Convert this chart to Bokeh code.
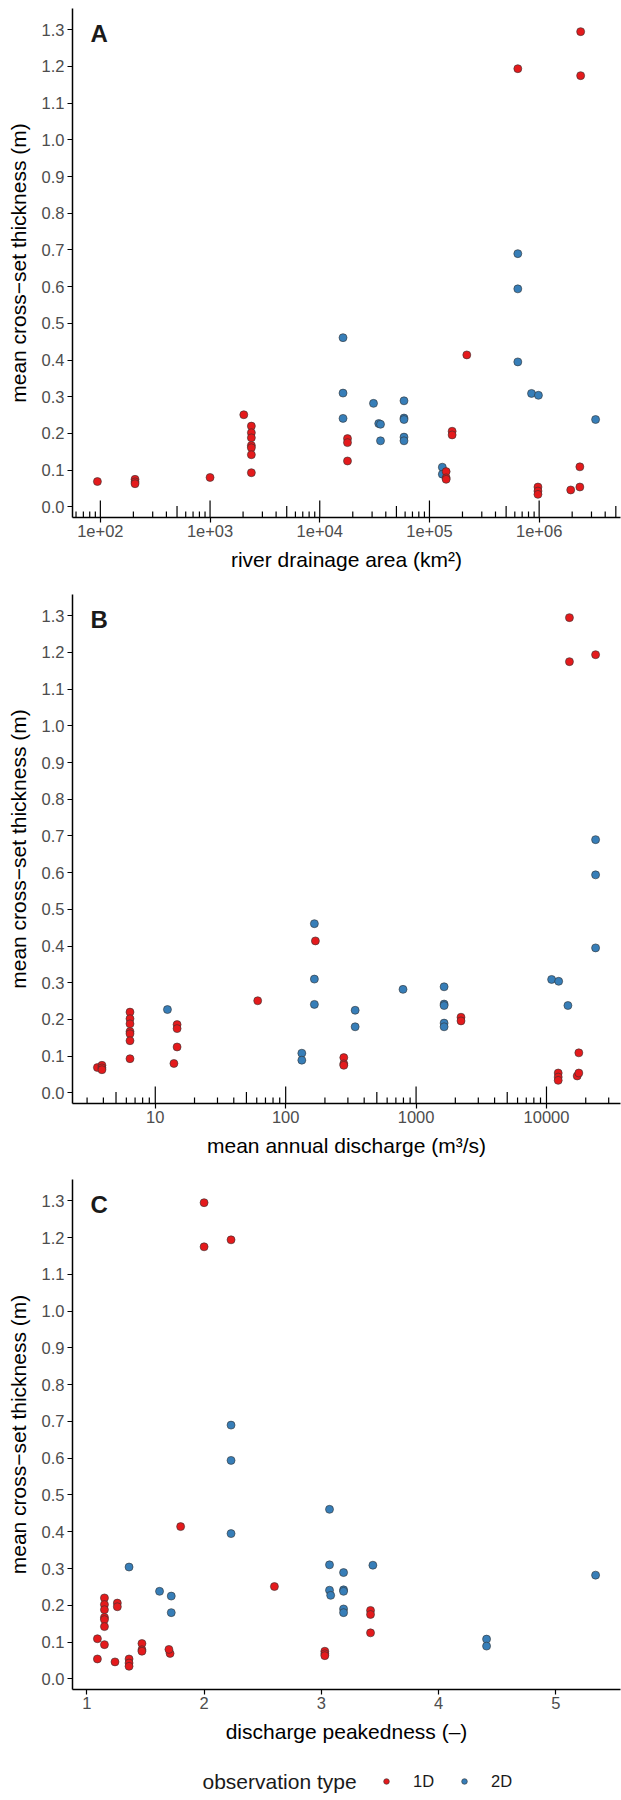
import math
from bokeh.plotting import figure
from bokeh.models import (Range1d, FixedTicker, NumeralTickFormatter, Label,
                          Legend, LegendItem)
from bokeh.layouts import column
from bokeh.embed import file_html
from bokeh.resources import INLINE

# ---------------- data ----------------
# observation type 1D
area_1d = [94, 207, 207, 207, 1000, 2030, 2380, 2380, 2380, 2380, 2380, 2380, 2380,
           17900, 17900, 17900, 142000, 142000, 142000, 161000, 161000, 219000,
           975000, 975000, 975000, 1940000, 2350000, 2350000, 639000, 2390000, 2390000]
discharge_1d = [3.6, 3.9, 3.9, 3.9, 13.9, 61, 6.4, 6.4, 6.4, 6.4, 6.4, 6.4, 6.4,
                14.7, 14.7, 14.7, 279, 279, 279, 2210, 2210, 169,
                12300, 12300, 12300, 17200, 17700, 17700, 23800, 15000, 15000]
peak_1d = [1.71, 3.03, 3.03, 3.03, 1.70, 2.60, 1.15, 1.15, 1.15, 1.15, 1.15, 1.15, 1.15,
           3.42, 3.42, 3.42, 1.47, 1.47, 1.47, 1.26, 1.26, 1.80,
           1.36, 1.36, 1.36, 1.24, 1.09, 1.09, 2.23, 2.00, 2.00]
thick_1d = [0.069, 0.075, 0.068, 0.063, 0.080, 0.251, 0.220, 0.202, 0.188, 0.167, 0.161, 0.142, 0.093,
            0.186, 0.175, 0.125, 0.096, 0.079, 0.075, 0.206, 0.196, 0.414,
            0.054, 0.043, 0.034, 0.046, 0.109, 0.054, 1.194, 1.295, 1.175]

# observation type 2D
area_2d = [16300, 16300, 16300, 30900, 34500, 35800, 35800, 58600, 58600, 58600, 58600, 58600,
           131000, 131000, 639000, 639000, 639000, 852000, 985000, 3270000]
discharge_2d = [166, 166, 166, 794, 12.4, 341, 341, 1640, 1640, 1640, 1640, 1640,
                133, 133, 23800, 23800, 23800, 10950, 12400, 14600]
peak_2d = [3.07, 3.07, 3.07, 5.34, 3.08, 1.72, 1.72, 3.19, 3.19, 3.19, 3.19, 3.19,
           4.41, 4.41, 2.23, 2.23, 2.23, 3.44, 1.36, 1.62]
thick_2d = [0.461, 0.310, 0.241, 0.282, 0.227, 0.225, 0.180, 0.289, 0.242, 0.238, 0.190, 0.180,
            0.108, 0.089, 0.690, 0.594, 0.395, 0.309, 0.304, 0.238]

type_labels = ["1D", "2D"]
legend_title = "observation type"

y_ticks = [0.0, 0.1, 0.2, 0.3, 0.4, 0.5, 0.6, 0.7, 0.8, 0.9, 1.0, 1.1, 1.2, 1.3]
y_title = "mean cross\u2212set thickness (m)"

area_ticks = [1e2, 1e3, 1e4, 1e5, 1e6]
area_tick_labels = ["1e+02", "1e+03", "1e+04", "1e+05", "1e+06"]
discharge_ticks = [10, 100, 1000, 10000]
discharge_tick_labels = ["10", "100", "1000", "10000"]
peak_ticks = [1, 2, 3, 4, 5]
peak_tick_labels = ["1", "2", "3", "4", "5"]

# ---------------- styling ----------------
FONT = "Liberation Sans"
RED = "#E41A1C"
BLUE = "#377EB8"
EDGE = "#333333"
W = 621
LEFT = 72
RIGHT = 1


def expand(lo, hi):
    pad = 0.05 * (hi - lo)
    return lo - pad, hi + pad


def make_panel(x1, x2, log, height, top, frame_h, letter, xlabel, xticks, xlabels):
    bottom = height - top - frame_h
    allx = x1 + x2
    if log:
        lo, hi = expand(math.log10(min(allx)), math.log10(max(allx)))
        xr = Range1d(10 ** lo, 10 ** hi)
    else:
        lo, hi = expand(min(allx), max(allx))
        xr = Range1d(lo, hi)
    ylo, yhi = expand(min(thick_1d + thick_2d), max(thick_1d + thick_2d))
    yr = Range1d(ylo, yhi)

    p = figure(width=W, height=height, x_range=xr, y_range=yr,
               x_axis_type="log" if log else "linear",
               output_backend="svg", toolbar_location=None,
               min_border_left=LEFT, min_border_right=RIGHT,
               min_border_top=top, min_border_bottom=bottom)
    p.outline_line_color = None
    p.xgrid.visible = False
    p.ygrid.visible = False
    p.background_fill_color = "white"
    p.border_fill_color = "white"

    for ax in (p.xaxis[0], p.yaxis[0]):
        ax.axis_line_color = "black"
        ax.axis_line_width = 1.5
        ax.major_tick_line_color = "black"
        ax.major_tick_line_width = 1.2
        ax.major_tick_out = 5
        ax.major_tick_in = 0
        ax.minor_tick_out = 0
        ax.minor_tick_in = 0
        ax.major_label_text_font = FONT
        ax.major_label_text_font_size = "16.5px"
        ax.major_label_text_color = "#4d4d4d"
        ax.axis_label_text_font = FONT
        ax.axis_label_text_font_size = "21px"
        ax.axis_label_text_font_style = "normal"
        ax.axis_label_text_color = "black"

    p.xaxis.ticker = FixedTicker(ticks=xticks)
    p.xaxis.major_label_overrides = {t: l for t, l in zip(xticks, xlabels)}
    p.xaxis.major_label_standoff = 2
    p.xaxis.axis_label = xlabel
    p.xaxis.axis_label_standoff = 8

    p.yaxis.ticker = FixedTicker(ticks=y_ticks)
    p.yaxis.formatter = NumeralTickFormatter(format="0.0")
    p.yaxis.major_label_standoff = 3
    p.yaxis.axis_label = y_title
    p.yaxis.axis_label_standoff = 9

    # log tick annotation along the bottom (long = decades, mid = 5x, short = others)
    if log:
        per_px = (yr.end - yr.start) / frame_h
        xs, ye = [], []
        for d in range(math.floor(math.log10(xr.start)), math.ceil(math.log10(xr.end)) + 1):
            for k in range(1, 10):
                v = k * 10 ** d
                if xr.start <= v <= xr.end:
                    L = 17 if k == 1 else (11.5 if k == 5 else 6)
                    xs.append(v)
                    ye.append(yr.start + L * per_px)
        p.segment(x0=xs, y0=[yr.start] * len(xs), x1=xs, y1=ye,
                  line_color="black", line_width=1.2)

    p.scatter(x2, thick_2d, size=8, fill_color=BLUE, line_color=EDGE, line_width=0.6)
    p.scatter(x1, thick_1d, size=8, fill_color=RED, line_color=EDGE, line_width=0.6)

    p.add_layout(Label(x=18, y=frame_h - 24.5, x_units="screen", y_units="screen",
                       text=letter, text_font=FONT, text_font_size="24px",
                       text_font_style="bold", text_color="#1a1a1a",
                       text_baseline="middle", text_align="left"))
    return p


def make_legend(height):
    p = figure(width=W, height=height, x_range=Range1d(0, 1), y_range=Range1d(0, 1),
               x_axis_location=None, y_axis_location=None,
               output_backend="svg", toolbar_location=None,
               min_border_left=0, min_border_right=0, min_border_top=0,
               min_border_bottom=0)
    p.outline_line_color = None
    p.xgrid.visible = False
    p.ygrid.visible = False
    p.border_fill_color = "white"
    p.background_fill_color = "white"
    # legend keys (kept outside the visible range; only their legend glyphs show)
    k1 = p.scatter(x=[-5], y=[-5], size=8, fill_color=RED, line_color=EDGE, line_width=0.6)
    k2 = p.scatter(x=[-5], y=[-5], size=8, fill_color=BLUE, line_color=EDGE, line_width=0.6)
    leg = Legend(items=[LegendItem(label=type_labels[0], renderers=[k1]),
                        LegendItem(label=type_labels[1], renderers=[k2])],
                 orientation="horizontal", location=(307, height - 21 - 10),
                 padding=0, margin=0, spacing=23, glyph_width=14, glyph_height=20,
                 label_standoff=20, label_height=20, label_text_font=FONT,
                 label_text_font_size="16.5px", label_text_color="#1a1a1a",
                 border_line_color=None, background_fill_alpha=0)
    p.add_layout(leg)
    p.add_layout(Label(x=130, y=height - 21, x_units="screen", y_units="screen",
                       text=legend_title, text_font=FONT, text_font_size="21px",
                       text_color="#1a1a1a", text_baseline="middle", text_align="left"))
    return p


pA = make_panel(area_1d, area_2d, True, 586, 8, 509, "A",
                "river drainage area (km\u00b2)", area_ticks, area_tick_labels)
pB = make_panel(discharge_1d, discharge_2d, True, 585, 8, 509, "B",
                "mean annual discharge (m\u00b3/s)", discharge_ticks, discharge_tick_labels)
pC = make_panel(peak_1d, peak_2d, False, 589, 8, 510, "C",
                "discharge peakedness (\u2013)", peak_ticks, peak_tick_labels)
pL = make_legend(40)

layout = column(pA, pB, pC, pL)
open("out.html", "w").write(file_html(layout, INLINE))
